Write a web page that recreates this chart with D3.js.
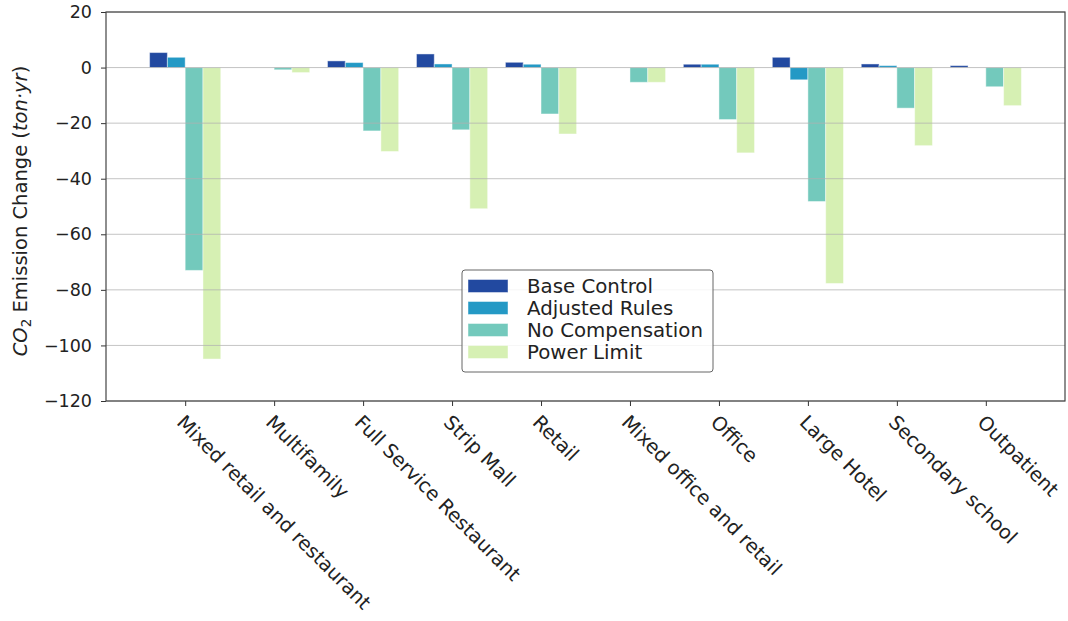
<!DOCTYPE html>
<html>
<head>
<meta charset="utf-8">
<script src="https://cdn.jsdelivr.net/npm/d3@7"></script>
<style>
  html, body { margin: 0; padding: 0; background: #fff; }
  svg { display: block; font-family: "DejaVu Sans", sans-serif; }
</style>
</head>
<body>
<svg id="chart" width="1068" height="621"></svg>
<script>
// Building types along the x axis
const categories = [
  "Mixed retail and restaurant", "Multifamily", "Full Service Restaurant",
  "Strip Mall", "Retail", "Mixed office and retail", "Office",
  "Large Hotel", "Secondary school", "Outpatient"
];

// CO2 emission change per strategy (ton·yr)
const seriesNames = ["Base Control", "Adjusted Rules", "No Compensation", "Power Limit"];
const baseControl    = [5.4, 0, 2.4, 4.9, 1.9, 0, 1.2, 3.7, 1.3, 0.7];
const adjustedRules  = [3.7, 0, 1.8, 1.3, 1.2, 0, 1.2, -4.4, 0.7, 0];
const noCompensation = [-73.0, -0.8, -22.8, -22.4, -16.7, -5.3, -18.7, -48.2, -14.6, -6.9];
const powerLimit     = [-104.9, -1.8, -30.2, -50.8, -23.9, -5.3, -30.7, -77.7, -28.1, -13.7];
const seriesValues = [baseControl, adjustedRules, noCompensation, powerLimit];
const seriesColors = ["#2249a0", "#2499c5", "#73c9bc", "#d6f0b3"];

const yTicks = [20, 0, -20, -40, -60, -80, -100, -120];

const svg = d3.select("#chart");
const plot = { left: 106, right: 1065, top: 12, bottom: 401 };

const barWidth = 0.2;
const x = d3.scaleLinear().domain([-0.89, categories.length - 1 + 0.89]).range([plot.left, plot.right]);
const y = d3.scaleLinear().domain([-120, 20]).range([plot.bottom, plot.top]);

// Bars
const bars = [];
seriesValues.forEach((vals, s) => {
  vals.forEach((v, i) => bars.push({ s, i, v }));
});
svg.append("g").selectAll("rect").data(bars).enter().append("rect")
  .attr("x", d => x(d.i - 0.4 + d.s * barWidth))
  .attr("width", d => x(barWidth) - x(0))
  .attr("y", d => y(Math.max(0, d.v)))
  .attr("height", d => Math.abs(y(d.v) - y(0)))
  .attr("fill", d => seriesColors[d.s])
  .attr("stroke", "#ffffff")
  .attr("stroke-opacity", 0.45)
  .attr("stroke-width", 1);

// Horizontal grid, drawn over the bars
svg.append("g").selectAll("line").data(yTicks).enter().append("line")
  .attr("x1", plot.left).attr("x2", plot.right)
  .attr("y1", d => y(d)).attr("y2", d => y(d))
  .attr("stroke", "#b0b0b0").attr("stroke-opacity", 0.75).attr("stroke-width", 1);

// Y axis
const yAxis = d3.axisLeft(y).tickValues(yTicks).tickSize(5).tickPadding(9)
  .tickFormat(d => d < 0 ? "\u2212" + Math.abs(d) : String(d));
const gy = svg.append("g").attr("transform", `translate(${plot.left},0)`).call(yAxis);
gy.select(".domain").remove();
gy.selectAll(".tick line").attr("stroke", "#333");
gy.selectAll(".tick text").attr("font-size", 17.5).attr("fill", "#222")
  .attr("font-family", "DejaVu Sans");

// X axis ticks and rotated labels
const xAxis = d3.axisBottom(x).tickValues(d3.range(categories.length)).tickSize(5).tickFormat("");
const gx = svg.append("g").attr("transform", `translate(0,${plot.bottom})`).call(xAxis);
gx.select(".domain").remove();
gx.selectAll(".tick line").attr("stroke", "#333");

svg.append("g").selectAll("text").data(categories).enter().append("text")
  .attr("transform", (d, i) => `translate(${x(i) + 1},${plot.bottom + 12}) rotate(45)`)
  .attr("dy", "0.76em")
  .attr("text-anchor", "start")
  .attr("font-size", 19.5)
  .attr("fill", "#222")
  .text(d => d);

// Frame
svg.append("rect")
  .attr("x", plot.left).attr("y", plot.top)
  .attr("width", plot.right - plot.left).attr("height", plot.bottom - plot.top)
  .attr("fill", "none").attr("stroke", "#444").attr("stroke-width", 1.2);

// Y axis title
const ylab = svg.append("text")
  .attr("transform", `translate(27,211) rotate(-90)`)
  .attr("text-anchor", "middle")
  .attr("font-size", 19.5)
  .attr("fill", "#222");
ylab.append("tspan").attr("font-style", "italic").text("CO");
ylab.append("tspan").attr("font-size", 13.5).attr("dy", 4).text("2");
ylab.append("tspan").attr("dy", -4).text(" Emission Change (");
ylab.append("tspan").attr("font-style", "italic").text("ton\u00b7yr");
ylab.append("tspan").text(")");

// Legend
const legend = svg.append("g").attr("transform", "translate(462,270)");
legend.append("rect")
  .attr("width", 251).attr("height", 102).attr("rx", 3)
  .attr("fill", "#fff").attr("fill-opacity", 0.85)
  .attr("stroke", "#666").attr("stroke-width", 1);
seriesNames.forEach((name, k) => {
  const row = legend.append("g").attr("transform", `translate(0,${16 + k * 22})`);
  row.append("rect").attr("x", 6).attr("y", -6.5).attr("width", 40).attr("height", 13)
    .attr("fill", seriesColors[k]).attr("stroke", "#fff").attr("stroke-opacity", 0.45);
  row.append("text").attr("x", 65).attr("dy", "0.36em")
    .attr("font-size", 19.8).attr("fill", "#222").text(name);
});
</script>
</body>
</html>
